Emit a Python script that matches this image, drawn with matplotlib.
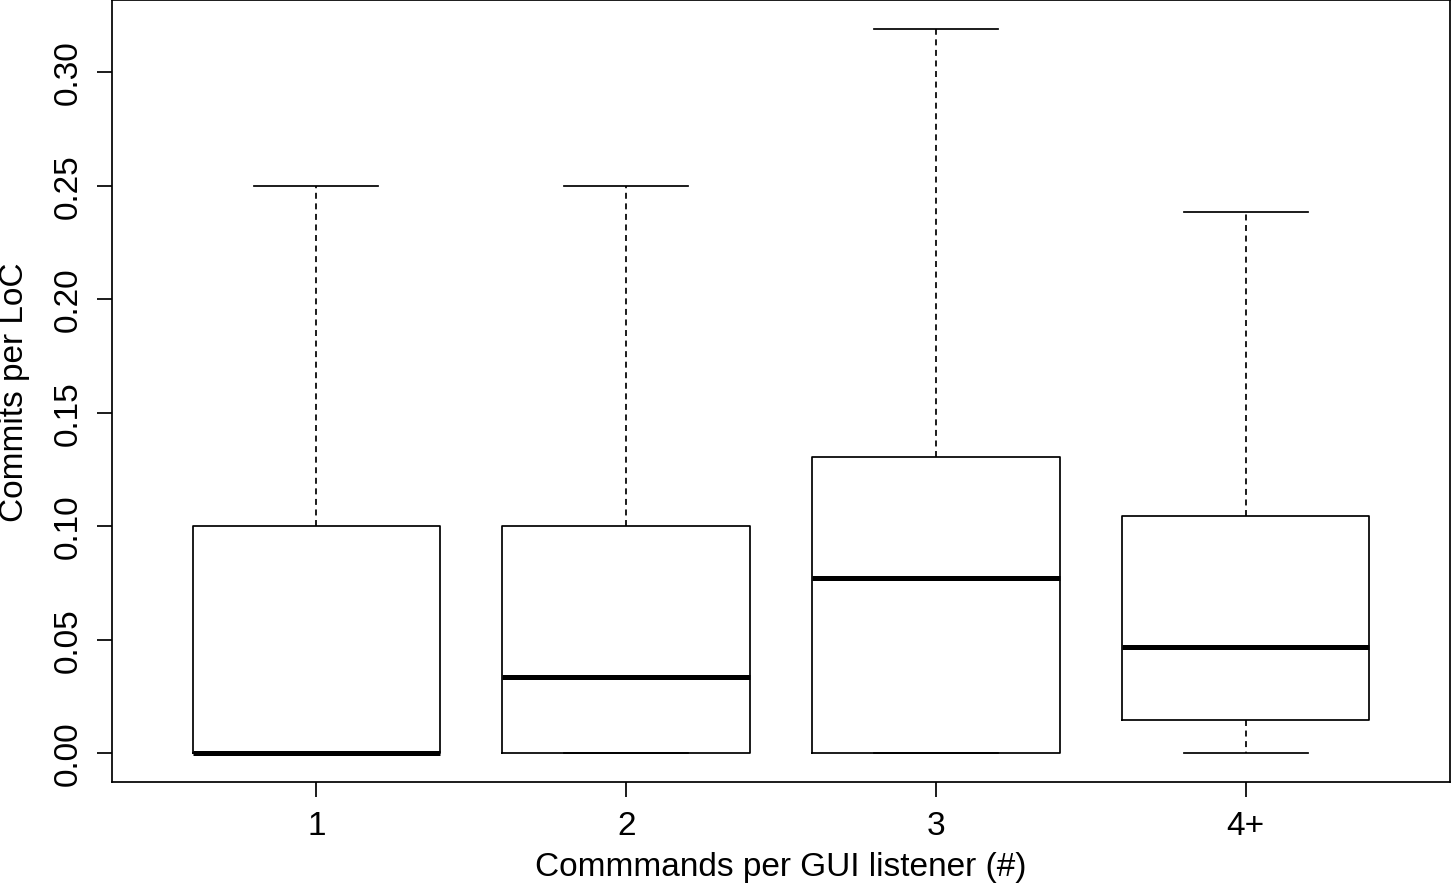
import matplotlib
matplotlib.use("Agg")
import matplotlib.pyplot as plt

plt.rcParams['font.family'] = ['Liberation Sans', 'DejaVu Sans']
plt.rcParams['lines.scale_dashes'] = False

categories = ["1", "2", "3", "4+"]
whislo = [0.0, 0.0, 0.0, 0.0]
q1 = [0.0, 0.0, 0.0, 0.0145]
med = [0.0, 0.0335, 0.0771, 0.0467]
q3 = [0.100, 0.100, 0.1304, 0.1044]
whishi = [0.250, 0.250, 0.319, 0.2383]
yticks = [0.00, 0.05, 0.10, 0.15, 0.20, 0.25, 0.30]
xlabel = "Commmands per GUI listener (#)"
ylabel = "Commits per LoC"

W, H = 1453, 887
fig = plt.figure(figsize=(W / 100, H / 100), dpi=100)
ax = fig.add_axes([112 / W, 1 - 783 / H, (1450 - 112) / W, (783 - 1) / H])

stats = [dict(whislo=a, q1=b, med=c, q3=d, whishi=e, label=l)
         for a, b, c, d, e, l in zip(whislo, q1, med, q3, whishi, categories)]
pos = list(range(1, len(categories) + 1))
lw = 1.25
ax.bxp(stats, positions=pos, widths=0.8, capwidths=0.4, showfliers=False,
       boxprops=dict(color='black', linewidth=lw),
       medianprops=dict(color='black', linewidth=3.6, solid_capstyle='butt'),
       whiskerprops=dict(color='black', linewidth=lw, linestyle=(0, (4.3, 3.3))),
       capprops=dict(color='black', linewidth=lw))

lo = min(whislo)
hi = max(whishi)
pad = 0.04 * (hi - lo)
ax.set_ylim(lo - pad, hi + pad)
n = len(categories)
xpad = 0.04 * n
ax.set_xlim(0.5 - xpad, n + 0.5 + xpad)

fs = 24
ax.set_yticks(yticks)
ax.set_yticklabels([f"{v:.2f}" for v in yticks])
ax.set_xticks(pos)
ax.set_xticklabels(categories)
for lab in ax.get_yticklabels():
    lab.set_rotation(90)
    lab.set_va('center')
ax.tick_params(axis='both', direction='out', length=10.8, width=lw,
               labelsize=fs, color='black')
ax.tick_params(axis='x', pad=9.5)
ax.tick_params(axis='y', pad=9.4)
for s in ax.spines.values():
    s.set_linewidth(lw)

fig.text((112 + 1450) / 2 / W, 1 - 876 / H, xlabel, ha='center', va='baseline', fontsize=fs)
fig.text(23 / W, 1 - 392 / H, ylabel, ha='center', va='baseline', rotation=90,
         rotation_mode='anchor', fontsize=fs)

fig.savefig("out.png", dpi=100)
